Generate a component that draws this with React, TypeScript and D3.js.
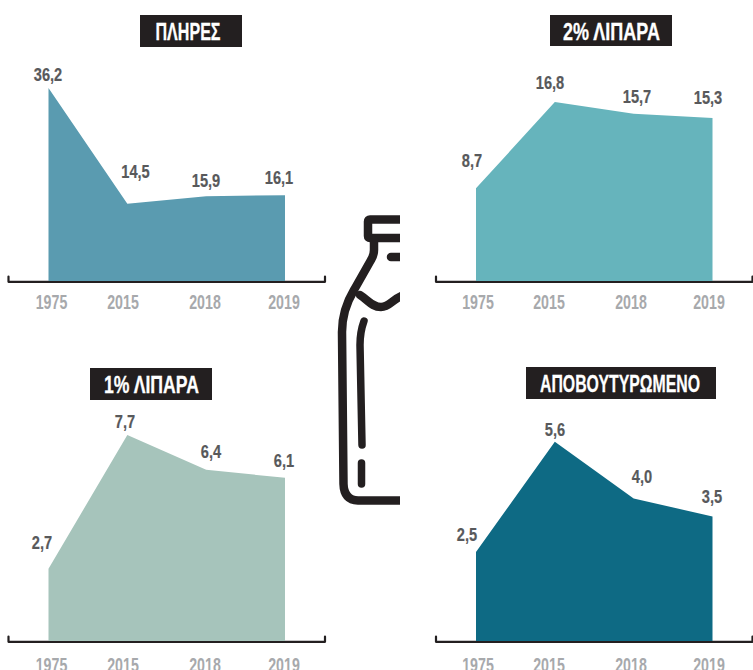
import React from "react";
import * as d3 from "d3";

const years = ["1975", "2015", "2018", "2019"];
const fullFat = [36.2, 14.5, 15.9, 16.1];
const twoPercent = [8.7, 16.8, 15.7, 15.3];
const onePercent = [2.7, 7.7, 6.4, 6.1];
const skimmed = [2.5, 5.6, 4.0, 3.5];

const FONT = "'Liberation Sans','Arial',sans-serif";
const BLACK = "#231f20";

type Panel = {
  title: string; titleW: number; titleX: number; values: number[]; color: string;
  x0: number; base: number; ppu: number; tickY: number;
  box: [number, number, number, number];
  labelPos: [number, number][];
  tickX: number[];
};

const panels: Panel[] = [
  { title: "ΠΛΗΡΕΣ", titleW: 65, titleX: 188, values: fullFat, color: "#5a9bb0", x0: 48.5, base: 281, ppu: 5.33, tickY: 309,
    box: [140, 15, 102, 32],
    labelPos: [[48, 81], [135.5, 178], [206, 187], [279, 184]],
    tickX: [51.5, 123, 205, 284] },
  { title: "2% ΛΙΠΑΡΑ", titleW: 97, titleX: 611.5, values: twoPercent, color: "#66b4bc", x0: 476, base: 281, ppu: 10.65, tickY: 309,
    box: [550, 15, 122, 31],
    labelPos: [[472, 167], [550, 89], [637, 103], [708, 104]],
    tickX: [478, 549, 631, 709] },
  { title: "1% ΛΙΠΑΡΑ", titleW: 95, titleX: 151.5, values: onePercent, color: "#a6c4bb", x0: 48.5, base: 641, ppu: 26.75, tickY: 672,
    box: [90, 368, 122, 32],
    labelPos: [[42, 549], [125, 428], [211, 458], [284, 467]],
    tickX: [51.5, 123, 205, 284] },
  { title: "ΑΠΟΒΟΥΤΥΡΩΜΕΝΟ", titleW: 160, titleX: 620, values: skimmed, color: "#0e6a84", x0: 476, base: 641, ppu: 35.6, tickY: 672,
    box: [526, 367, 190, 32],
    labelPos: [[467, 541], [555, 436], [642, 483], [712, 503]],
    tickX: [478, 549, 631, 709] },
];

function PanelView({ p }: { p: Panel }) {
  const x = d3.scalePoint<string>().domain(years).range([p.x0, p.x0 + 236.5]);
  const maxV = d3.max(p.values) as number;
  const y = d3.scaleLinear().domain([0, maxV]).range([p.base, p.base - maxV * p.ppu]);
  const area = d3.area<number>()
    .x((_, i) => x(years[i]) as number)
    .y0(p.base)
    .y1((d) => y(d));
  const axL = p.x0 - 40;
  const axR = p.x0 + 276.5;
  const [bx, by, bw, bh] = p.box;
  return (
    <g>
      <path
        d={`M${axL},${p.base - 4.5} V${p.base + 0.8} H${axR} V${p.base - 4.5}`}
        fill="none" stroke={BLACK} strokeWidth={2.2} strokeLinecap="round" strokeLinejoin="round"
      />
      <path d={area(p.values) as string} fill={p.color} />
      <rect x={bx} y={by} width={bw} height={bh} fill={BLACK} />
      <text x={p.titleX - p.titleW / 2} y={by + 24.5} textLength={p.titleW} lengthAdjust="spacingAndGlyphs"
        fontFamily={FONT} fontWeight={700} fontSize={24.5} fill="#fff" stroke="#fff" strokeWidth={0.3}>{p.title}</text>
      {p.values.map((v, i) => (
        <text key={i} transform={`translate(${p.labelPos[i][0]},${p.labelPos[i][1]}) scale(0.77,1)`} textAnchor="middle" fontFamily={FONT}
          fontWeight={700} fontSize={19} fill="#58595b" stroke="#58595b" strokeWidth={0.2}>{d3.format(".1f")(v).replace(".", ",")}</text>
      ))}
      {years.map((t, i) => (
        <text key={t} transform={`translate(${p.tickX[i]},${p.tickY}) scale(0.71,1)`} textAnchor="middle" fontFamily={FONT}
          fontWeight={700} fontSize={20} fill="#a7a9ac">{t}</text>
      ))}
    </g>
  );
}

function Bottle() {
  return (
    <g fill="none" stroke={BLACK} strokeLinecap="round" strokeLinejoin="round" clipPath="url(#halfBottle)">
      <g strokeWidth={8.5}>
        <path d="M404,219.5 H370 Q368,219.5 368,221.5 V236 Q368,238 370,238 H404" />
        <path d="M374,240 V250 Q374,255 371,260 L354,290 Q342,310 342,332 L343.5,484 Q344,500 358,500.5 H404" />
        <path d="M360,295 C368,300 372,307 381,307 C390,307 392,299 404,295" />
        <path d="M391,257 H404" />
      </g>
      <g strokeWidth={7.5}>
        <path d="M364,321 Q360,332 360,345 L362,445" />
        <path d="M361.5,463 V484" />
      </g>
    </g>
  );
}

export default function App() {
  return (
    <svg width={753} height={670} viewBox="0 0 753 670"
      style={{ position: "absolute", left: 0, top: 0, display: "block", background: "#fff" }}>
      <defs>
        <clipPath id="halfBottle"><rect x={320} y={200} width={80} height={320} /></clipPath>
      </defs>
      {panels.map((p) => <PanelView key={p.title} p={p} />)}
      <Bottle />
    </svg>
  );
}
